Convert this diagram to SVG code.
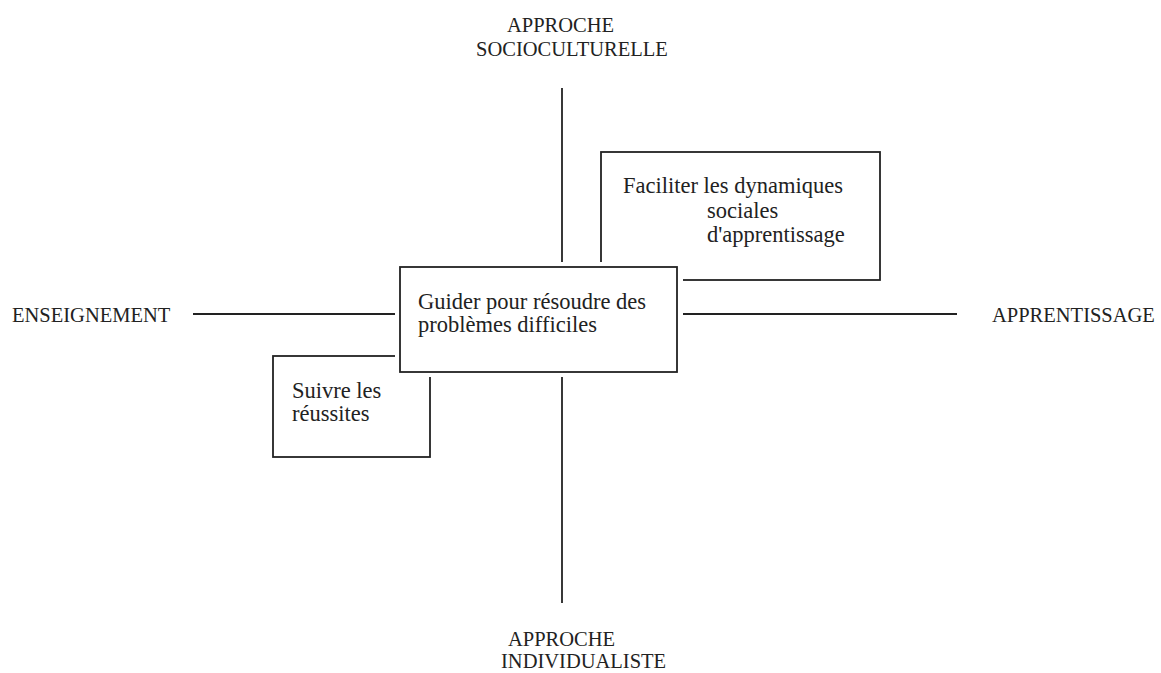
<svg xmlns="http://www.w3.org/2000/svg" width="1161" height="673" viewBox="0 0 1161 673">
<style>
.bg{fill:#ffffff}
.box{fill:#ffffff;stroke:#222222;stroke-width:1.8}
.halo{fill:#ffffff;stroke:none}
.ax{stroke:#222222;stroke-width:1.8;fill:none}
.lbl{font-family:"Liberation Serif","Times New Roman",serif;font-size:20.5px;fill:#222222}
.txt{font-family:"Liberation Serif","Times New Roman",serif;font-size:22.5px;fill:#222222}
</style>
<rect class="bg" x="0" y="0" width="1161" height="673"/>
<g id="connectors">
<line class="ax" x1="562" y1="88" x2="562" y2="603"/>
<line class="ax" x1="193" y1="314" x2="957" y2="314"/>
</g>
<g id="label-top">
<text class="lbl" x="507" y="32">APPROCHE</text>
<text class="lbl" x="476" y="56">SOCIOCULTURELLE</text>
</g>
<g id="label-bottom">
<text class="lbl" x="508" y="646">APPROCHE</text>
<text class="lbl" x="501" y="668">INDIVIDUALISTE</text>
</g>
<g id="label-left">
<text class="lbl" x="12" y="322">ENSEIGNEMENT</text>
</g>
<g id="label-right">
<text class="lbl" x="992" y="322">APPRENTISSAGE</text>
</g>
<g id="node-suivre">
<rect class="box" x="273" y="356" width="157" height="101"/>
<text class="txt" x="292" y="398">Suivre les</text>
<text class="txt" x="292" y="421">réussites</text>
</g>
<g id="node-faciliter">
<rect class="box" x="601" y="152" width="279" height="128"/>
<text class="txt" x="623" y="193">Faciliter les dynamiques</text>
<text class="txt" x="707" y="218">sociales</text>
<text class="txt" x="707" y="242">d'apprentissage</text>
</g>
<g id="node-guider">
<rect class="halo" x="395" y="262" width="288" height="115"/>
<rect class="box" x="400" y="267" width="277" height="105"/>
<text class="txt" x="418" y="309">Guider pour résoudre des</text>
<text class="txt" x="418" y="332">problèmes difficiles</text>
</g>
</svg>
